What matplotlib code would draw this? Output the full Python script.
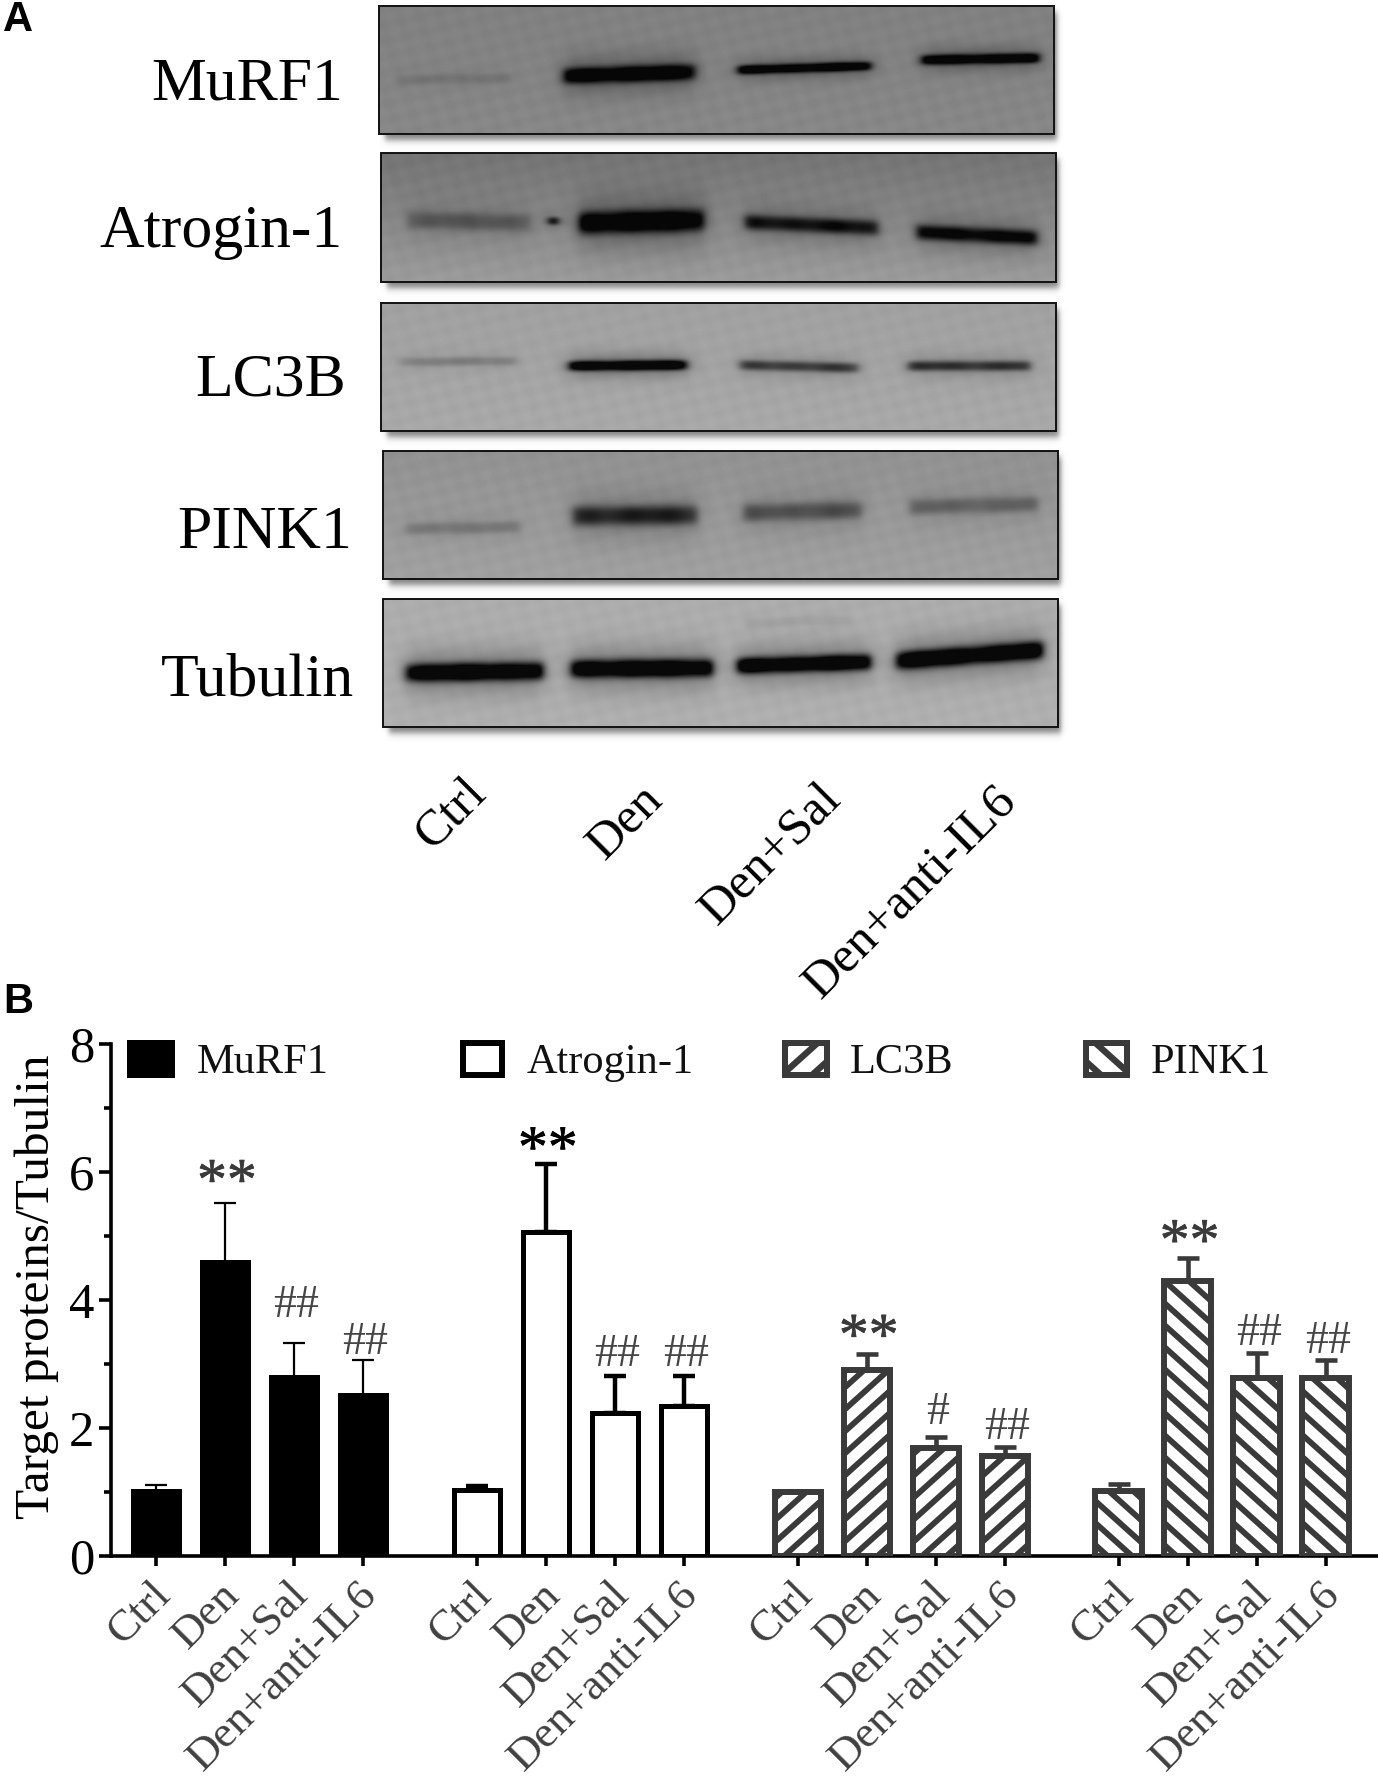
import matplotlib
matplotlib.use("Agg")
import matplotlib.pyplot
import matplotlib.patches
import matplotlib.lines
import matplotlib.transforms
import matplotlib.patheffects
import numpy

matplotlib.pyplot.rcParams["font.family"] = ["Liberation Serif", "DejaVu Serif"]

# ---- chart values (panel B) ----
groups = ["Ctrl", "Den", "Den+Sal", "Den+anti-IL6"]
murf1_mean = [1.02, 4.60, 2.80, 2.52]
murf1_err = [0.09, 0.92, 0.53, 0.55]
atrogin_mean = [1.03, 5.07, 2.24, 2.34]
atrogin_err = [0.07, 1.06, 0.57, 0.48]
lc3b_mean = [1.00, 2.90, 1.68, 1.57]
lc3b_err = [0.02, 0.26, 0.18, 0.13]
pink1_mean = [1.01, 4.30, 2.78, 2.78]
pink1_err = [0.12, 0.36, 0.39, 0.28]

murf1_marks = ["", "**", "##", "##"]
atrogin_marks = ["", "**", "##", "##"]
lc3b_marks = ["", "**", "#", "##"]
pink1_marks = ["", "**", "##", "##"]
murf1_mark_y = [0, 6.01, 3.97, 3.40]
atrogin_mark_y = [0, 6.52, 3.20, 3.20]
lc3b_mark_y = [0, 3.59, 2.30, 2.06]
pink1_mark_y = [0, 5.07, 3.54, 3.41]

# ---- blot bands (panel A), in pixels: x start, x end, y left, y right, half height, darkness ----
murf1_bands = [(397, 511, 80, 78, 5, 0.1), (564, 695, 76, 72, 8, 1.0), (738, 871, 70, 66, 4.5, 1.0), (922, 1039, 60, 58, 5, 1.0)]
atrogin_bands = [(408, 530, 220, 223, 9, 0.3), (549, 558, 221, 221, 4, 0.9), (579, 704, 223, 220, 11, 1.0), (745, 878, 222, 228, 7.5, 0.7), (917, 1037, 232, 238, 7.5, 0.8)]
lc3b_bands = [(401, 516, 362, 361, 4.5, 0.18), (569, 687, 366, 365, 5, 1.0), (740, 858, 365, 368, 5, 0.5), (908, 1030, 366, 366, 5, 0.55)]
pink1_bands = [(405, 521, 529, 527, 6, 0.18), (573, 697, 516, 515, 10, 0.62), (743, 862, 513, 510, 9, 0.38), (910, 1038, 507, 504, 8, 0.28)]
tubulin_bands = [(406, 543, 673, 671, 9, 1.0), (571, 713, 669, 668, 9, 1.0), (737, 871, 666, 662, 8, 1.0), (896, 1043, 661, 650, 9, 1.0), (745, 850, 623, 620, 5, 0.05)]

blot_names = ["MuRF1", "Atrogin-1", "LC3B", "PINK1", "Tubulin"]
blot_boxes = [(379, 1054, 6, 134), (381, 1056, 153, 282), (381, 1056, 303, 431), (383, 1058, 451, 579), (383, 1058, 599, 727)]
blot_gray = [(128, 135), (115, 155), (160, 168), (145, 160), (172, 175)]
blot_bands = [murf1_bands, atrogin_bands, lc3b_bands, pink1_bands, tubulin_bands]
blot_label_x = [343, 343, 346, 352, 354]
blot_label_y = [99, 247, 396, 548, 696]

lane_labels = groups
lane_x = [452, 625, 771, 910]
lane_y = [814, 822, 855, 892]

W = 1378
H = 1778
fig = matplotlib.pyplot.figure(figsize=(W / 100, H / 100), dpi=100)

# whole-figure axes in pixel coords, for the blots, the legend and the letters
canvas = fig.add_axes([0, 0, 1, 1], zorder=0)
canvas.axis("off")


def blotImage(box, gray, bands):
    x0, x1, y0, y1 = box
    xx, yy = numpy.meshgrid(numpy.arange(x0, x1) + 0.5, numpy.arange(y0, y1) + 0.5)
    bg = gray[0] + (gray[1] - gray[0]) * (yy - y0) / (y1 - y0)
    # film grain look, plain sines
    bg = bg + 3.0 * numpy.sin(xx / 5.0 + yy / 7.0) * numpy.sin(yy / 4.0 - xx / 9.0)
    dark = numpy.zeros(xx.shape)
    halo = numpy.zeros(xx.shape)
    for bx0, bx1, by0, by1, half, depth in bands:
        centre = by0 + (by1 - by0) * (xx - bx0) / (bx1 - bx0)
        env = 0.5 * (numpy.tanh((xx - bx0) / 5.0) - numpy.tanh((xx - bx1) / 5.0))
        wobble = 1 + 0.12 * numpy.sin(xx / 9.0) * numpy.sin(xx / 23.0)
        dark += depth * wobble * env * numpy.exp(-numpy.abs((yy - centre) / half) ** 2.6)
        # soft cloud round the band
        env2 = 0.5 * (numpy.tanh((xx - bx0) / 12.0) - numpy.tanh((xx - bx1) / 12.0))
        halo += 0.3 * depth * env2 * numpy.exp(-((yy - centre) / (half * 2.6)) ** 2)
    dark = numpy.clip(dark + halo, 0, 0.95)
    return bg * (1 - dark)


def shadowImage(box):
    x0, x1, y0, y1 = box
    pad = 18
    xs = numpy.arange(x0 - pad, x1 + pad) + 0.5
    ys = numpy.arange(y0 - pad, y1 + pad) + 0.5
    ax_ = 0.5 * (numpy.tanh((xs - x0 - 6) / 3.0) - numpy.tanh((xs - x1 - 3) / 3.0))
    ay_ = 0.5 * (numpy.tanh((ys - y0 - 6) / 4.0) - numpy.tanh((ys - y1 - 6) / 4.0))
    rgba = numpy.zeros((len(ys), len(xs), 4))
    rgba[:, :, :3] = 0.3
    rgba[:, :, 3] = 0.7 * numpy.outer(ay_, ax_)
    return rgba, (x0 - pad, x1 + pad, y1 + pad, y0 - pad)


for i in range(5):
    box = blot_boxes[i]
    rgba, ext = shadowImage(box)
    canvas.imshow(rgba, extent=ext, aspect="auto", zorder=1)
    canvas.imshow(blotImage(box, blot_gray[i], blot_bands[i]), extent=(box[0], box[1], box[3], box[2]),
                  cmap="gray", vmin=0, vmax=255, aspect="auto", zorder=2)
    canvas.add_patch(matplotlib.patches.Rectangle((box[0], box[2]), box[1] - box[0], box[3] - box[2],
                                                  fill=False, edgecolor="#111111", linewidth=1.4, zorder=3))
    canvas.text(blot_label_x[i], blot_label_y[i], blot_names[i], ha="right", va="baseline", fontsize=44.5, color="black")

canvas.set_xlim(0, W)
canvas.set_ylim(H, 0)

for i in range(4):
    canvas.text(lane_x[i], lane_y[i], lane_labels[i], rotation=45, ha="center", va="center",
                rotation_mode="anchor", fontsize=36.5, color="black")

canvas.text(3, 20, "A", family="Liberation Sans", fontweight="bold", fontsize=30, va="center", ha="left")
canvas.text(3, 1002, "B", family="Liberation Sans", fontweight="bold", fontsize=30, va="center", ha="left")

# ---- panel B ----
ax = fig.add_axes([111 / W, (H - 1556) / H, (W - 111) / W, 512 / H], zorder=1)
ax.patch.set_visible(False)

DARK = "#3a3a3a"
series_mean = [murf1_mean, atrogin_mean, lc3b_mean, pink1_mean]
series_err = [murf1_err, atrogin_err, lc3b_err, pink1_err]
series_marks = [murf1_marks, atrogin_marks, lc3b_marks, pink1_marks]
series_mark_y = [murf1_mark_y, atrogin_mark_y, lc3b_mark_y, pink1_mark_y]
series_names = ["MuRF1", "Atrogin-1", "LC3B", "PINK1"]
series_fill = ["black", "white", "white", "white"]
series_edge = ["black", "black", DARK, DARK]
series_hatch = [0, 0, 1, -1]
series_errlw = [1.6, 3.2, 3.3, 3.3]
series_barlw = [3.6, 3.6, 4.3, 4.3]
star_color = [DARK, "black", DARK, DARK]

ax.set_xlim(-0.65, 17.71)
ax.set_ylim(0, 8)

identity = matplotlib.transforms.IdentityTransform()


def addHatch(axes, patch, direction, spacing=22, lw=4.2, z=2, slope=0.9):
    bb = patch.get_window_extent()
    # lines are y = direction * slope * x + c, walk c over the whole box
    if direction > 0:
        c_low = bb.y0 - slope * bb.x1
        c_high = bb.y1 - slope * bb.x0
    else:
        c_low = bb.y0 + slope * bb.x0
        c_high = bb.y1 + slope * bb.x1
    for c in numpy.arange(c_low + spacing / 2, c_high, spacing):
        ys = [direction * slope * bb.x0 + c, direction * slope * bb.x1 + c]
        line = matplotlib.lines.Line2D([bb.x0, bb.x1], ys, color=DARK, linewidth=lw,
                                       transform=identity, zorder=z, solid_capstyle="butt")
        axes.add_artist(line)
        # after add_artist, it would put the axes patch as clip otherwise
        line.set_clip_path(patch)


ticks = []
ticklabels = []
for g in range(4):
    xs = [g * 4.65 + i for i in range(4)]
    ticks += xs
    ticklabels += groups
    ax.errorbar(xs, series_mean[g], yerr=[[0, 0, 0, 0], series_err[g]], fmt="none", ecolor=series_edge[g],
                elinewidth=series_errlw[g], capsize=8, capthick=series_errlw[g], zorder=0.5)
    bars = ax.bar(xs, series_mean[g], width=0.67, color=series_fill[g], linewidth=0, zorder=1)
    if series_hatch[g] != 0:
        for b in bars:
            addHatch(ax, b, series_hatch[g])
    ax.bar(xs, series_mean[g], width=0.67, color="none", edgecolor=series_edge[g], linewidth=series_barlw[g], zorder=3)
    for i in range(4):
        mark = series_marks[g][i]
        if mark == "":
            continue
        if mark == "**":
            size, off = 43, 20
            col = star_color[g]
            stroke = 0.5
        else:
            size, off = 33, 11
            col = "#454545"
            stroke = 0
        txt = ax.annotate(mark, (xs[i], series_mark_y[g][i]), xytext=(1.5, -off), textcoords="offset points",
                          ha="center", va="baseline", fontsize=size, color=col, zorder=4)
        if stroke > 0:
            # the stars are fatter in the figure than the font gives
            txt.set_path_effects([matplotlib.patheffects.withStroke(linewidth=stroke, foreground=col)])

ax.spines["top"].set_visible(False)
ax.spines["right"].set_visible(False)
ax.spines["left"].set_linewidth(2.6)
ax.spines["bottom"].set_linewidth(2.6)

ax.set_yticks([0, 2, 4, 6, 8])
ax.set_yticks([1, 3, 5, 7], minor=True)
ax.tick_params(axis="y", which="major", length=9, width=2.6, labelsize=36.5, pad=3)
ax.tick_params(axis="y", which="minor", length=5, width=2.6)
ax.set_xticks(ticks)
ax.set_xticklabels(ticklabels, rotation=45, ha="right", rotation_mode="anchor", fontsize=32.5, color="#404040")
ax.tick_params(axis="x", length=7, width=2.6, pad=7)
# labels sit a bit left of the ticks
shift = matplotlib.transforms.ScaledTranslation(-6 / 100, 1 / 100, fig.dpi_scale_trans)
for lab in ax.get_xticklabels():
    lab.set_transform(lab.get_transform() + shift)

canvas.text(37, 1287, "Target proteins/Tubulin", rotation=90, ha="center", va="center", fontsize=35.6, color="black")

# legend by hand, the four entries are not evenly spaced
legend_boxes = [(127, 175), (460, 505), (782, 830), (1083, 1130)]
legend_text_x = [197, 527, 850, 1151]
for g in range(4):
    x0, x1 = legend_boxes[g]
    inset = 3 if g > 0 else 0
    rect = matplotlib.patches.Rectangle((x0 + inset, 1040 + inset), x1 - x0 - 2 * inset, 38 - 2 * inset,
                                        facecolor=series_fill[g], edgecolor=series_edge[g],
                                        linewidth=4.3 if g > 0 else 0, zorder=1)
    canvas.add_patch(rect)
    if series_hatch[g] != 0:
        addHatch(canvas, rect, series_hatch[g], spacing=27, lw=4.6, z=1.5)
        canvas.add_patch(matplotlib.patches.Rectangle((x0 + inset, 1040 + inset), x1 - x0 - 2 * inset, 38 - 2 * inset,
                                                      fill=False, edgecolor=series_edge[g], linewidth=4.3, zorder=2))
    canvas.text(legend_text_x[g], 1063, series_names[g], ha="left", va="center", fontsize=30.5, color="#111111")

fig.savefig("out.png", dpi=100, facecolor="white")
